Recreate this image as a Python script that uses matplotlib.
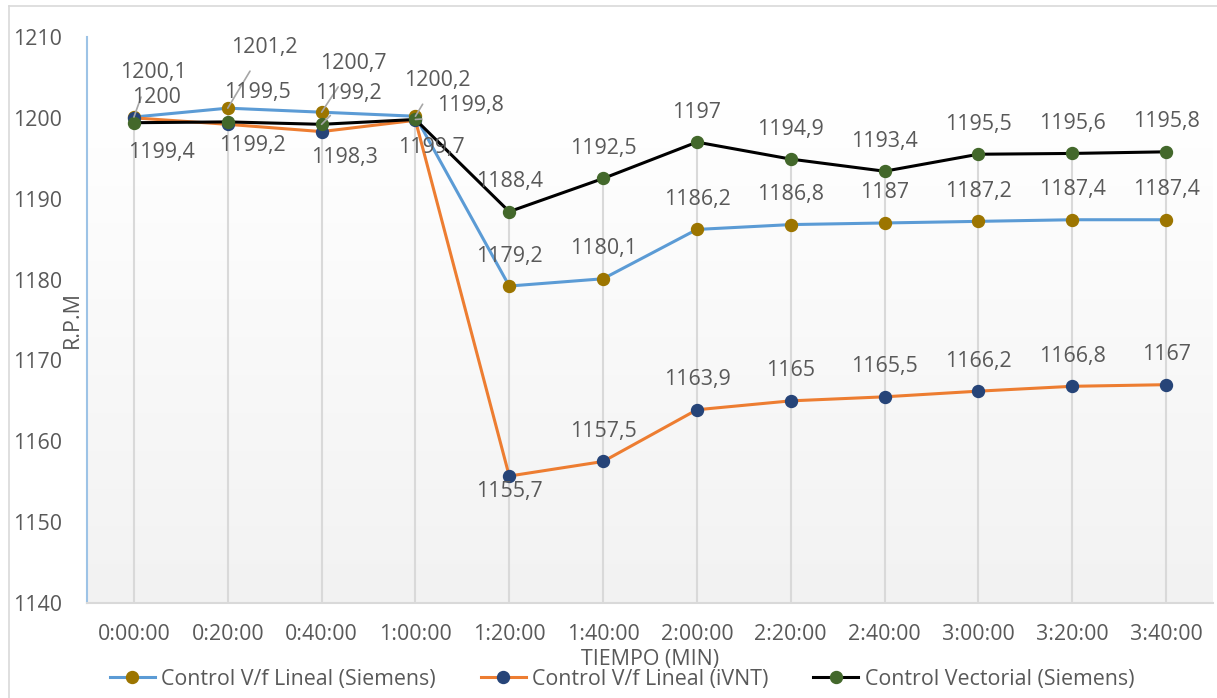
import matplotlib
matplotlib.use('Agg')
import matplotlib.pyplot as plt
from matplotlib.colors import LinearSegmentedColormap
from matplotlib.lines import Line2D
import numpy as np

plt.rcParams['font.family'] = ['Open Sans', 'DejaVu Sans']

# datos de velocidad (RPM) cada 20 minutos
tiempos = ['0:00:00', '0:20:00', '0:40:00', '1:00:00', '1:20:00', '1:40:00',
           '2:00:00', '2:20:00', '2:40:00', '3:00:00', '3:20:00', '3:40:00']
vf_siemens = [1200.1, 1201.2, 1200.7, 1200.2, 1179.2, 1180.1,
              1186.2, 1186.8, 1187.0, 1187.2, 1187.4, 1187.4]
vf_ivnt = [1200.0, 1199.2, 1198.3, 1199.7, 1155.7, 1157.5,
           1163.9, 1165.0, 1165.5, 1166.2, 1166.8, 1167.0]
vectorial = [1199.4, 1199.5, 1199.2, 1199.8, 1188.4, 1192.5,
             1197.0, 1194.9, 1193.4, 1195.5, 1195.6, 1195.8]
nombres = ['Control V/f Lineal (Siemens)', 'Control V/f Lineal (iVNT)',
           'Control Vectorial (Siemens)']

# desplazamiento de etiquetas en pixeles (dx, dy), por defecto encima
despl = {
    (0, 0): (19, 45), (0, 1): (37, 61), (0, 2): (32, 49), (0, 3): (22, 36),
    (1, 0): (23, 20), (1, 1): (25, -21), (1, 2): (23, -26), (1, 3): (16, -27),
    (1, 4): (0, -15),
    (2, 0): (27, -30), (2, 1): (30, 29), (2, 2): (27, 31), (2, 3): (55, 14),
}
lineas_guia = {(0, 0), (0, 1), (0, 2), (0, 3), (2, 2), (2, 3)}

gris_txt = '#595959'
fs = 15.4

fig = plt.figure(figsize=(12.17, 6.98), dpi=100)
ax = fig.add_axes([87 / 1217, 1 - 603 / 698, 1126 / 1217, 566 / 698])

x = np.arange(len(tiempos))
series = [vf_siemens, vf_ivnt, vectorial]
colores_linea = ['#5b9bd5', '#ed7d31', '#000000']
colores_marca = ['#9c7500', '#264478', '#43682b']

# fondo degradado del area de trazado
cmap = LinearSegmentedColormap.from_list('fondo', ['#f2f2f2', '#ffffff'])
grad = np.linspace(0, 1, 256).reshape(-1, 1)
ax.imshow(grad, extent=[-0.5, 11.5, 1140, 1201], origin='lower', aspect='auto',
          cmap=cmap, zorder=0)

# lineas de caida
maximos = np.max(np.array(series), axis=0)
ax.vlines(x, 1140, maximos, color='#d9d9d9', lw=1.5, zorder=1)

for k, (s, cl, cm) in enumerate(zip(series, colores_linea, colores_marca)):
    ax.plot(x, s, color=cl, lw=2.2, marker='o', ms=8.6, mfc=cm, mec=cm, zorder=3 + k)
    for i, v in enumerate(s):
        dx, dy = despl.get((k, i), (0, 30))
        txt = ('%g' % v).replace('.', ',')
        if (k, i) in lineas_guia:
            ax.annotate(txt, (i, v), xytext=(dx * 0.72, dy * 0.72), textcoords='offset points',
                        ha='center', va='center', fontsize=fs, color=gris_txt, zorder=10,
                        arrowprops=dict(arrowstyle='-', color='#a6a6a6', lw=1.2,
                                        shrinkA=9, shrinkB=0, relpos=(0.4, 0.0)))
        else:
            ax.annotate(txt, (i, v), xytext=(dx * 0.72, dy * 0.72), textcoords='offset points',
                        ha='center', va='center', fontsize=fs, color=gris_txt, zorder=10)

ax.set_xlim(-0.5, 11.5)
ax.set_ylim(1140, 1210)
ax.set_yticks(np.arange(1140, 1211, 10))
ax.set_xticks(x)
ax.set_xticklabels(tiempos)
ax.tick_params(axis='both', length=0, labelsize=fs, labelcolor=gris_txt)
ax.tick_params(axis='x', pad=15)
for lab in ax.get_yticklabels():
    lab.set_horizontalalignment('left')
ax.tick_params(axis='y', pad=53)

for sp in ['top', 'right']:
    ax.spines[sp].set_visible(False)
ax.spines['left'].set_color('#9dc3e6')
ax.spines['left'].set_linewidth(1.5)
ax.spines['bottom'].set_color('#d9d9d9')
ax.spines['bottom'].set_linewidth(1.5)

ax.set_xlabel('TIEMPO (MIN)', fontsize=fs, color=gris_txt, labelpad=3)
ax.set_ylabel('R.P.M', fontsize=fs, color=gris_txt)
ax.yaxis.set_label_coords(-0.004, 0.5)

handles = [Line2D([0], [0], color=cl, lw=2.2, marker='o', ms=8.6, mfc=cm, mec=cm)
           for cl, cm in zip(colores_linea, colores_marca)]
fig.legend(handles, nombres, loc='center', bbox_to_anchor=(0.511, 1 - 679 / 698), ncol=3,
           frameon=False, fontsize=fs, labelcolor=gris_txt, handlelength=2.1,
           handletextpad=0.3, columnspacing=2.1)

# borde del area del grafico
fig.add_artist(Line2D([9 / 1217, 9 / 1217], [0, 1 - 6 / 698], color='#d9d9d9', lw=1.2))
fig.add_artist(Line2D([9 / 1217, 1], [1 - 6 / 698, 1 - 6 / 698], color='#d9d9d9', lw=1.2))

fig.savefig('out.png', dpi=100, facecolor='white')
